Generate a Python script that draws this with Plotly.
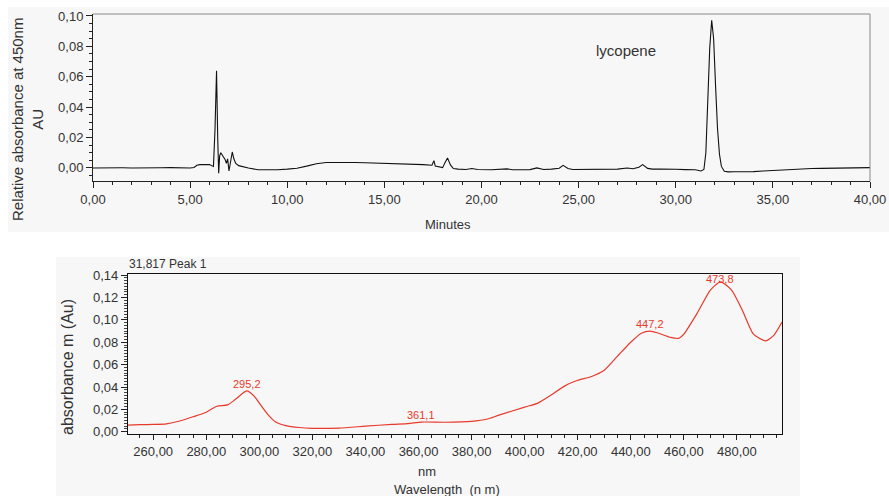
import plotly.graph_objects as go

W, H = 889, 496

# ---------------- Chromatogram data (top) ----------------
retention_min = [0.0, 0.5, 1.0, 1.5, 2.0, 2.5, 3.0, 3.5, 4.0, 4.5, 5.0, 5.2, 5.35, 5.5, 5.8, 6.0,
                 6.15, 6.2, 6.28, 6.36, 6.42, 6.47, 6.52, 6.58, 6.7, 6.8, 6.87, 6.93, 7.0, 7.08,
                 7.17, 7.25, 7.35, 7.5, 7.7, 8.0, 8.5, 9.0, 9.5, 10.0, 10.5, 11.0, 11.5, 12.0,
                 12.5, 13.0, 13.5, 14.0, 14.5, 15.0, 15.5, 16.0, 16.5, 17.0, 17.45, 17.55, 17.62,
                 17.8, 18.0, 18.1, 18.25, 18.4, 18.55, 18.8, 19.2, 19.5, 19.8, 20.5, 21.0, 21.3,
                 21.6, 22.0, 22.5, 22.85, 23.2, 23.6, 24.0, 24.2, 24.45, 24.7, 25.0, 25.5, 26.0,
                 26.5, 27.0, 27.5, 27.8, 28.1, 28.3, 28.55, 28.8, 29.2, 29.6, 30.0, 30.5, 31.0,
                 31.3, 31.45, 31.55, 31.65, 31.75, 31.85, 31.95, 32.05, 32.15, 32.25, 32.35, 32.5,
                 32.7, 33.0, 33.5, 34.0, 34.5, 35.0, 35.5, 36.0, 36.5, 37.0, 37.5, 38.0, 38.5,
                 39.0, 39.5, 40.0]
absorbance_au = [0.0000, 0.0002, -0.0001, 0.0001, 0.0000, 0.0002, -0.0001, 0.0001, 0.0002, -0.0001,
                 0.0000, 0.0003, 0.0018, 0.0022, 0.0021, 0.0023, 0.0012, 0.0010, 0.0250, 0.0640,
                 0.0200, -0.0035, 0.0080, 0.0100, 0.0075, 0.0055, 0.0030, 0.0060, -0.0020, 0.0050,
                 0.0105, 0.0060, 0.0030, 0.0015, 0.0008, 0.0000, -0.0012, -0.0014, -0.0012, -0.0008,
                 -0.0002, 0.0012, 0.0028, 0.0036, 0.0037, 0.0035, 0.0036, 0.0034, 0.0032, 0.0031,
                 0.0028, 0.0029, 0.0026, 0.0022, 0.0018, 0.0048, 0.0012, 0.0008, 0.0002, 0.0030,
                 0.0066, 0.0020, -0.0004, -0.0008, -0.0010, -0.0004, -0.0010, -0.0012, -0.0011,
                 -0.0006, -0.0012, -0.0013, -0.0011, 0.0000, -0.0010, -0.0008, -0.0002, 0.0017,
                 -0.0004, -0.0010, -0.0010, -0.0009, -0.0010, -0.0008, -0.0008, 0.0000, -0.0005,
                 0.0005, 0.0022, -0.0003, -0.0008, -0.0007, -0.0010, -0.0009, -0.0011, -0.0012,
                 -0.0020, -0.0010, 0.0100, 0.0400, 0.0790, 0.0972, 0.0850, 0.0540, 0.0260, 0.0090,
                 0.0010, -0.0022, -0.0026, -0.0025, -0.0026, -0.0024, -0.0020, -0.0016, -0.0012,
                 -0.0008, -0.0006, -0.0004, -0.0003, -0.0002, -0.0001, 0.0000, 0.0001, 0.0002]

# ---------------- UV-Vis spectrum data (bottom) ----------------
wavelength_nm = [250.5, 255, 260, 265, 270, 275, 280, 284, 288, 291, 295.2, 298, 300, 303, 306, 310,
                 315, 320, 330, 340, 350, 356, 361.1, 370, 380, 386, 390, 400, 405, 410, 415, 420,
                 425, 430, 435, 440, 444, 447.2, 450, 455, 458, 460, 465, 470, 473.8, 478, 482,
                 486, 488, 491, 494, 497]
spectrum_abs = [0.0060, 0.0063, 0.0066, 0.0071, 0.0096, 0.0134, 0.0175, 0.0228, 0.0240, 0.0290,
                0.0365, 0.0320, 0.0255, 0.0160, 0.0090, 0.0055, 0.0038, 0.0031, 0.0033, 0.0050,
                0.0066, 0.0072, 0.0087, 0.0085, 0.0093, 0.0114, 0.0146, 0.0220, 0.0256, 0.0328,
                0.0408, 0.0460, 0.0492, 0.0550, 0.0676, 0.0800, 0.0880, 0.0900, 0.0885, 0.0843,
                0.0835, 0.0873, 0.1058, 0.1266, 0.1340, 0.1266, 0.1088, 0.0880, 0.0843, 0.0813,
                0.0864, 0.0980]

peak_nm = [295.2, 361.1, 447.2, 473.8]
peak_abs = [0.0365, 0.0087, 0.0900, 0.1340]
peak_labels = ["295,2", "361,1", "447,2", "473,8"]

FONT = "Liberation Sans, Arial, sans-serif"
TXT = "#333333"
GRAY_BG = "#f7f7f7"
RED = "#e8392b"


def px_x(p):
    return p / W


def px_y(p):
    return 1 - p / H


fig = go.Figure()

fig.add_trace(go.Scatter(x=retention_min, y=absorbance_au, mode="lines",
                         line=dict(color="#111111", width=1.1),
                         xaxis="x", yaxis="y", showlegend=False, hoverinfo="skip"))
fig.add_trace(go.Scatter(x=wavelength_nm, y=spectrum_abs, mode="lines",
                         line=dict(color=RED, width=1.2, shape="spline", smoothing=0.6),
                         xaxis="x2", yaxis="y2", showlegend=False, hoverinfo="skip"))

tickfont = dict(family=FONT, size=13, color=TXT)

fig.update_layout(
    width=W, height=H,
    margin=dict(l=0, r=0, t=0, b=0),
    paper_bgcolor="white",
    plot_bgcolor="rgba(0,0,0,0)",
    separators=", ",
    font=dict(family=FONT, color=TXT),
    xaxis=dict(domain=[px_x(93), px_x(870)], range=[0, 40], anchor="y",
               tickmode="linear", tick0=0, dtick=5, tickformat=".2f",
               ticks="outside", ticklen=6, tickwidth=1, tickcolor="#222",
               showline=True, linecolor="#222", linewidth=1,
               showgrid=False, zeroline=False, tickfont=tickfont, automargin=False,
               minor=dict(dtick=1, ticks="outside", ticklen=3, tickcolor="#222", showgrid=False)),
    yaxis=dict(domain=[px_y(181), px_y(14)], range=[-0.0086, 0.1013], anchor="x",
               tickmode="linear", tick0=0, dtick=0.02, tickformat=".2f",
               ticks="outside", ticklen=6, tickwidth=1, tickcolor="#222",
               showline=True, linecolor="#222", linewidth=1,
               showgrid=False, zeroline=False, tickfont=tickfont, automargin=False,
               minor=dict(dtick=0.005, ticks="outside", ticklen=3, tickcolor="#222", showgrid=False)),
    xaxis2=dict(domain=[px_x(128), px_x(782)], range=[250.5, 497], anchor="y2",
                tickmode="linear", tick0=0, dtick=20, tickformat=".2f",
                ticks="outside", ticklen=5, tickwidth=1, tickcolor="#222",
                showline=True, linecolor="#111", linewidth=1.2, mirror=True,
                showgrid=False, zeroline=False, tickfont=tickfont, automargin=False,
                minor=dict(dtick=5, ticks="outside", ticklen=3, tickcolor="#222", showgrid=False)),
    yaxis2=dict(domain=[px_y(434), px_y(274)], range=[-0.002, 0.141], anchor="x2",
                tickmode="linear", tick0=0, dtick=0.02, tickformat=".2f",
                ticks="outside", ticklen=6, tickwidth=1, tickcolor="#222",
                showline=True, linecolor="#111", linewidth=1.2, mirror=True,
                showgrid=False, zeroline=False, tickfont=tickfont, automargin=False,
                minor=dict(dtick=0.0025, ticks="outside", ticklen=3, tickcolor="#444", showgrid=False)),
)

shapes = [
    # light gray panels
    dict(type="rect", xref="paper", yref="paper", x0=px_x(8), x1=px_x(889), y0=px_y(232), y1=px_y(7),
         fillcolor=GRAY_BG, line=dict(width=0), layer="below"),
    dict(type="rect", xref="paper", yref="paper", x0=px_x(56), x1=px_x(800), y0=px_y(496), y1=px_y(257),
         fillcolor=GRAY_BG, line=dict(width=0), layer="below"),
    # top chart frame (gray top and right borders)
    dict(type="line", xref="x domain", yref="y domain", x0=0, x1=1, y0=1, y1=1,
         line=dict(color="#888888", width=1)),
    dict(type="line", xref="x domain", yref="y domain", x0=1, x1=1, y0=0, y1=1,
         line=dict(color="#888888", width=1)),
]
fig.update_layout(shapes=shapes)

ann = [
    dict(text="Relative absorbance at 450nm<br>AU", xref="paper", yref="paper",
         x=px_x(27), y=px_y(120), textangle=-90, showarrow=False,
         font=dict(family=FONT, size=15, color=TXT), xanchor="center", yanchor="middle"),
    dict(text="Minutes", xref="paper", yref="paper", x=px_x(448), y=px_y(224),
         showarrow=False, font=dict(family=FONT, size=13, color=TXT),
         xanchor="center", yanchor="middle"),
    dict(text="lycopene", xref="paper", yref="paper", x=px_x(626), y=px_y(50),
         showarrow=False, font=dict(family=FONT, size=15, color=TXT),
         xanchor="center", yanchor="middle"),
    dict(text="31,817 Peak 1", xref="paper", yref="paper", x=px_x(127), y=px_y(264),
         showarrow=False, font=dict(family=FONT, size=12, color=TXT),
         xanchor="left", yanchor="middle"),
    dict(text="absorbance m (Au)", xref="paper", yref="paper", x=px_x(67), y=px_y(367),
         textangle=-90, showarrow=False, font=dict(family=FONT, size=16, color=TXT),
         xanchor="center", yanchor="middle"),
    dict(text="nm", xref="paper", yref="paper", x=px_x(427), y=px_y(471),
         showarrow=False, font=dict(family=FONT, size=13, color=TXT),
         xanchor="center", yanchor="middle"),
    dict(text="Wavelength  (n m)", xref="paper", yref="paper", x=px_x(447), y=px_y(489),
         showarrow=False, font=dict(family=FONT, size=13, color=TXT),
         xanchor="center", yanchor="middle"),
]
for nm, v, lab in zip(peak_nm, peak_abs, peak_labels):
    ann.append(dict(text=lab, x=nm, y=min(v + 0.0065, 0.1365), xref="x2", yref="y2",
                    showarrow=False, font=dict(family=FONT, size=11, color=RED),
                    xanchor="center", yanchor="middle"))
fig.update_layout(annotations=ann)

fig.write_html("out.html",
               config={"displayModeBar": False},
               post_script="document.body.style.margin='0';document.body.style.padding='0';"
                           "document.body.style.overflow='hidden';")
